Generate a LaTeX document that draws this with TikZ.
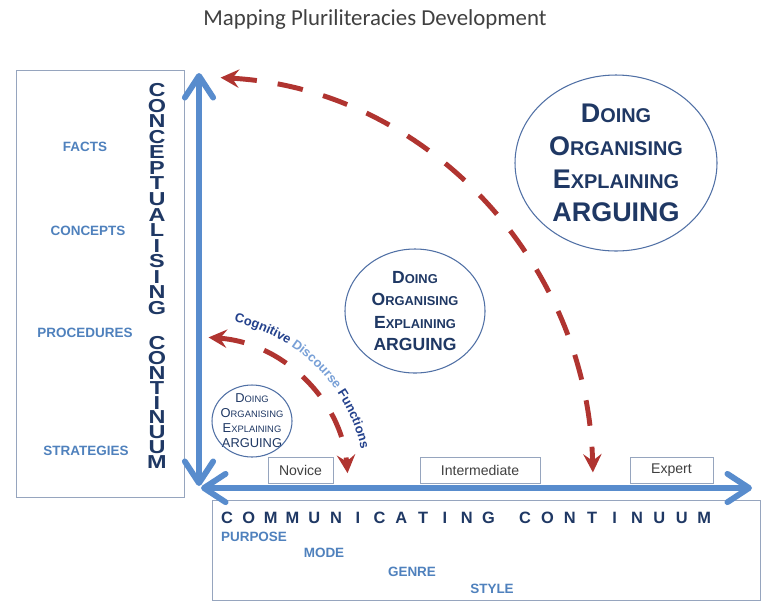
\documentclass[tikz,border=0pt]{standalone}
\usepackage{fontspec}
\usepackage{graphicx}
\setmainfont{Liberation Sans}
\newfontfamily\titlefont{Carlito}
\usetikzlibrary{arrows.meta,decorations.text}

\definecolor{axisblue}{RGB}{88,140,205}
\definecolor{labelblue}{RGB}{79,129,189}
\definecolor{navy}{RGB}{31,56,100}
\definecolor{arcred}{RGB}{176,52,48}
\definecolor{framegray}{RGB}{150,165,190}
\definecolor{ringblue}{RGB}{80,112,165}
\definecolor{textgray}{RGB}{64,64,64}
\definecolor{cogdark}{RGB}{35,65,140}
\definecolor{coglight}{RGB}{120,160,215}

\newcommand{\pxu}{0.03cm}
% first letter full size, rest as small capitals
\newcommand{\fakesc}[3]{#1{\fontsize{#3}{#3}\selectfont #2}}

\begin{document}
\begin{tikzpicture}[x=0.03cm, y=-0.03cm,
    frame/.style={draw=framegray, line width=0.8pt},
    lefttag/.style={text=labelblue, font=\fontsize{11.5}{13}\selectfont\bfseries, inner sep=0pt},
    vletter/.style={text=navy, font=\fontsize{16}{16}\selectfont\bfseries, inner sep=0pt},
    hletter/.style={text=navy, font=\fontsize{14}{14}\selectfont\bfseries, inner sep=0pt},
    levelbox/.style={draw=framegray, line width=0.8pt, text=textgray, font=\fontsize{12}{14}\selectfont, minimum height=26*\pxu, inner sep=0pt},
    ringtext/.style={align=center, text=navy, inner sep=0pt},
    ring/.style={draw=ringblue, line width=0.9pt},
    axis/.style={draw=axisblue, line width=5pt, line cap=round, {Straight Barb[length=6.5mm, width=8.5mm, round]}-{Straight Barb[length=6.5mm, width=8.5mm, round]}},
    redarc/.style={draw=arcred, line width=4.2pt, dash pattern=on 22pt off 18pt, {Stealth[length=5.5mm, width=5.5mm, inset=2mm]}-{Stealth[length=5.5mm, width=5.5mm, inset=2mm]}}
  ]
  \fill[white] (0,0) rectangle (763,602);
  \useasboundingbox (0,0) rectangle (763,602);

  \node[text=textgray, font=\titlefont\fontsize{19.5}{22}\selectfont] (title) at (375,20) {Mapping Pluriliteracies Development};

  % conceptualising side
  \draw[frame] (16,70) rectangle (184,497);
  \node[lefttag] (facts) at (85,147) {FACTS};
  \node[lefttag] (concepts) at (88,231) {CONCEPTS};
  \node[lefttag] (procedures) at (85,333) {PROCEDURES};
  \node[lefttag] (strategies) at (86,451) {STRATEGIES};
  \foreach \ch [count=\i from 0] in {C,O,N,C,E,P,T,U,A,L,I,S,I,N,G}
    \node[vletter] (cw\i) at (157,{90+15.57*\i}) {\scalebox{1.25}[1]{\ch}};
  \foreach \ch [count=\i from 0] in {C,O,N,T,I,N,U,U,M}
    \node[vletter] (cn\i) at (157,{343+14.9*\i}) {\scalebox{1.25}[1]{\ch}};

  % communicating side
  \draw[frame] (212,500) rectangle (760,600);
  \foreach \ch [count=\i from 0] in {C,O,M,M,U,N,I,C,A,T,I,N,G}
    \node[hletter] (hw\i) at ({227+21.8*\i},518) {\ch};
  \foreach \ch [count=\i from 0] in {C,O,N,T,I,N,U,U,M}
    \node[hletter] (hn\i) at ({525+22.4*\i},518) {\ch};
  \node[lefttag] (purpose) at (254,537) {PURPOSE};
  \node[lefttag] (mode) at (324,553) {MODE};
  \node[lefttag] (genre) at (412,572) {GENRE};
  \node[lefttag] (style) at (492,589) {STYLE};

  % axes
  \coordinate (ybot) at (199,486);
  \coordinate (ytop) at (199,73);
  \coordinate (xbeg) at (201,488);
  \coordinate (xend) at (752,488);
  \draw[axis] (ybot) -- (ytop);
  \draw[axis] (xbeg) -- (xend);

  \node[levelbox, minimum width=65*\pxu] (novice) at (300.5,470) {Novice};
  \node[levelbox, minimum width=120*\pxu] (intermediate) at (480,470) {Intermediate};
  \node[levelbox, minimum width=83*\pxu] (expert) at (671.5,470) {Expert};

  % functions
  \node[ringtext, font=\fontsize{11}{12.8}\selectfont] (smalltext) at (252,421)
    {\fakesc{D}{OING}{8}\\\fakesc{O}{RGANISING}{8}\\\fakesc{E}{XPLAINING}{8}\\ARGUING};
  \draw[ring] (smalltext.center) ellipse [x radius=40, y radius=36];
  \node[ringtext, font=\fontsize{15}{19}\selectfont\bfseries] (midtext) at (415,311)
    {\fakesc{D}{OING}{11}\\\fakesc{O}{RGANISING}{11}\\\fakesc{E}{XPLAINING}{11}\\ARGUING};
  \draw[ring] (midtext.center) ellipse [x radius=70, y radius=62];
  \node[ringtext, font=\fontsize{23}{28}\selectfont\bfseries] (bigtext) at (616,163)
    {\fakesc{D}{OING}{17}\\\fakesc{O}{RGANISING}{17}\\\fakesc{E}{XPLAINING}{17}\\ARGUING};
  \draw[ring] (bigtext.center) ellipse [x radius=101, y radius=88];

  % development arcs
  \coordinate (smallstart) at (208.5,337.4);
  \coordinate (bigstart) at (220.6,77.6);
  \draw[redarc] (smallstart) arc[start angle=-86, end angle=-4.6, x radius=150, y radius=148];
  \draw[redarc] (bigstart) arc[start angle=-87, end angle=-1.5, x radius=393, y radius=406];
  \path[decorate, decoration={text along path, text align=center,
      text={|\fontsize{11}{13}\selectfont\bfseries\color{cogdark}|Cognitive |+\color{coglight}|Discourse |+\color{cogdark}|Functions}}]
    (198,318) arc[start angle=-90, end angle=0, x radius=167, y radius=167];
\end{tikzpicture}
\end{document}
